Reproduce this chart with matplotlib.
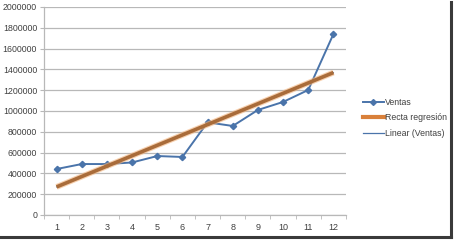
import matplotlib

matplotlib.use("Agg")
import matplotlib.pyplot as plt
import numpy as np
from matplotlib.lines import Line2D
from matplotlib.ticker import FuncFormatter, MultipleLocator

months = [1, 2, 3, 4, 5, 6, 7, 8, 9, 10, 11, 12]
ventas = [442000, 490000, 490000, 505000, 567000, 558000,
          891000, 856000, 1010000, 1087000, 1202000, 1740000]
y_ticks = [0, 200000, 400000, 600000, 800000, 1000000,
           1200000, 1400000, 1600000, 1800000, 2000000]

BLUE = "#4a74aa"
ORANGE = "#a96c3a"
TXT = "#404040"
GRID = "#b8b8b8"

# recta de regresion (tendencia lineal de Ventas)
slope, icpt = np.polyfit(months, ventas, 1)
recta = [slope * m + icpt for m in months]

plt.rcParams["font.family"] = ["Liberation Sans", "DejaVu Sans"]

fig = plt.figure(figsize=(4.54, 2.40), dpi=100)
ax = fig.add_axes([44 / 454, 1 - 215 / 240, 302 / 454, 208 / 240])

ax.plot(months, ventas, "-", color=BLUE, lw=1.4, marker="D", markersize=3.2,
        markerfacecolor=BLUE, markeredgecolor=BLUE, zorder=3)
ax.plot(months, recta, "-", color="#f2b27a", lw=4.2, alpha=0.6, zorder=4,
        solid_capstyle="butt")
ax.plot(months, recta, "-", color=ORANGE, lw=2.6, zorder=5, solid_capstyle="butt")
ax.plot(months, recta, "-", color=BLUE, lw=0.8, zorder=2)

ax.set_xlim(0.5, 12.5)
ax.set_ylim(0, 2000000)
ax.set_yticks(y_ticks)
ax.yaxis.set_major_formatter(FuncFormatter(lambda v, p: f"{int(v)}"))
ax.set_xticks(months)
ax.set_xticks([m + 0.5 for m in [0] + months], minor=True)
ax.tick_params(axis="x", which="major", length=0, pad=6, labelsize=6.5, labelcolor=TXT)
ax.tick_params(axis="x", which="minor", length=3, color=GRID, direction="out")
ax.tick_params(axis="y", length=3, color=GRID, pad=2, labelsize=6.3, labelcolor=TXT)
ax.grid(axis="y", color=GRID, lw=0.9)
ax.set_axisbelow(True)
for s in ("top", "right"):
    ax.spines[s].set_visible(False)
for s in ("left", "bottom"):
    ax.spines[s].set_color(GRID)
    ax.spines[s].set_linewidth(0.9)

handles = [
    Line2D([], [], color=BLUE, lw=1.4, marker="D", markersize=3),
    Line2D([], [], color="#d9803a", lw=3),
    Line2D([], [], color=BLUE, lw=0.9),
]
labels = ["Ventas", "Recta regresión", "Linear (Ventas)"]
fig.legend(handles, labels, loc="center left", bbox_to_anchor=(355 / 454, 1 - 118 / 240),
           frameon=False, fontsize=6.3, handlelength=2.4, handletextpad=0.1,
           labelspacing=0.75, labelcolor=TXT)

# sombra del marco
fig.add_artist(Line2D([0, 451 / 454], [1 - 236.5 / 240] * 2, color="#3a3a3a", lw=2.2,
                      transform=fig.transFigure))
fig.add_artist(Line2D([451 / 454] * 2, [1 - 236.5 / 240, 1 - 2 / 240], color="#3a3a3a",
                      lw=2.2, transform=fig.transFigure))

fig.savefig("out.png", dpi=100)
